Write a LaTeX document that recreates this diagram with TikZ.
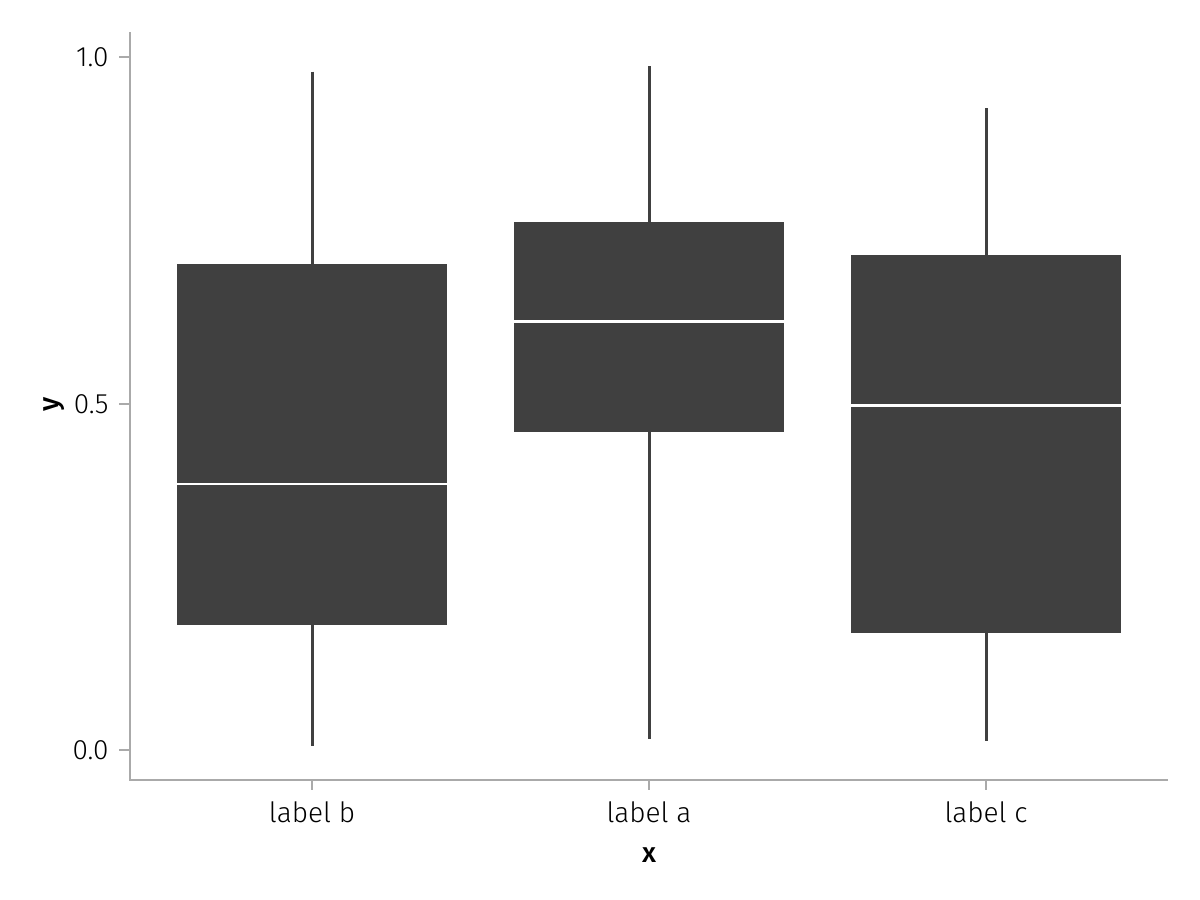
\documentclass[tikz,border=0pt]{standalone}
\usepackage{fontspec}
\IfFontExistsTF{Fira Sans Light}{%
  \setmainfont{Fira Sans}[UprightFont={* Light},BoldFont={* Medium}]%
}{%
  \setmainfont{Fira Sans}%
}
\definecolor{boxgray}{RGB}{64,64,64}
\definecolor{spinegray}{RGB}{170,170,170}
\begin{document}
\begin{tikzpicture}[x=0.5pt,y=-0.5pt,
  spine/.style={draw=spinegray,line width=1pt},
  tickmark/.style={draw=spinegray,line width=1pt},
  whisker/.style={draw=boxgray,line width=1.5pt},
  boxfill/.style={fill=boxgray,draw=none},
  median/.style={draw=white,line width=1.3pt},
  ticklabel/.style={font=\fontsize{14pt}{16pt}\selectfont,text=black,inner sep=0pt},
  axislabel/.style={font=\fontsize{14pt}{16pt}\selectfont\bfseries,text=black,inner sep=0pt}]
\useasboundingbox[fill=white] (0,0) rectangle (1200,900);
% spines
\coordinate (sTop) at (130,32);
\coordinate (sCorner) at (130,780);
\coordinate (sRight) at (1168,780);
\draw[spine] (sTop) -- (sCorner) -- (sRight);
% y ticks
\foreach \yy/\lab/\nm in {57/1.0/t1,404/0.5/t2,750/0.0/t3}{
  \coordinate (\nm a) at (119,\yy);
  \coordinate (\nm b) at (130,\yy);
  \draw[tickmark] (\nm a) -- (\nm b);
  \node[ticklabel,anchor=east] (\nm lab) at (109,\yy) {\lab};
}
% x ticks
\foreach \xx/\lab/\nm in {312/label b/xb,649/label a/xa,986/label c/xc}{
  \coordinate (\nm a) at (\xx,780);
  \coordinate (\nm b) at (\xx,790);
  \draw[tickmark] (\nm a) -- (\nm b);
  \node[ticklabel,anchor=base] (\nm lab) at (\xx,822) {\lab};
}
% axis labels
\node[axislabel,anchor=base] (xlabel) at (649,862) {x};
\node[axislabel,rotate=90,anchor=base] (ylabel) at (58,404) {y};
% boxes: xcenter, left, right, wtop, q3, median, q1, wbottom
\foreach \nm/\xc/\xl/\xr/\wt/\qt/\md/\qb/\wb in {
  bb/312/177.3/446.7/71.7/264.3/484/625.3/745.7,
  ba/649/514.3/783.7/66/222.3/321.7/432.3/739.3,
  bc/986/851.3/1121/108.3/255.3/405.3/632.7/741}{
  \coordinate (\nm wt) at (\xc,\wt);
  \coordinate (\nm wb) at (\xc,\wb);
  \draw[whisker] (\nm wt) -- (\nm wb);
  \path[boxfill] (\xl,\qt) rectangle (\xr,\qb);
  \coordinate (\nm ml) at (\xl,\md);
  \coordinate (\nm mr) at (\xr,\md);
  \draw[median] (\nm ml) -- (\nm mr);
}
\end{tikzpicture}
\end{document}
